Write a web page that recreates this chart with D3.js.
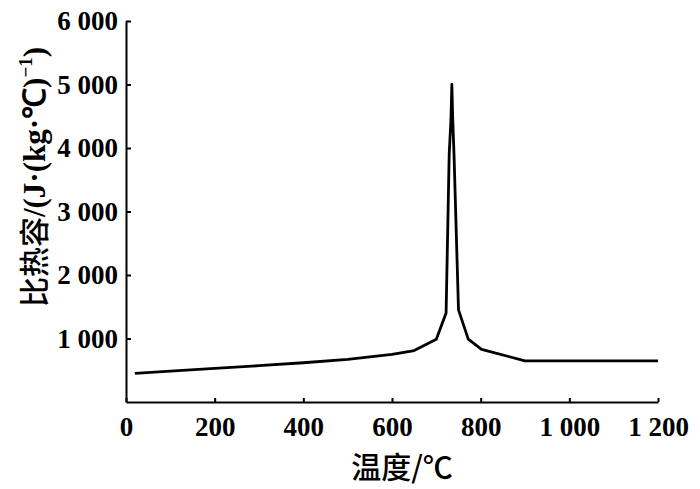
<!DOCTYPE html>
<html><head><meta charset="utf-8">
<script src="https://cdn.jsdelivr.net/npm/d3@7"></script>
<style>body{margin:0;background:#fff}</style>
</head><body>
<svg id="c" width="700" height="489"></svg>
<script>
const temps = [20, 100, 200, 300, 400, 500, 600, 650, 700, 722, 729, 733, 735, 737, 740, 750, 772, 802, 900, 1000, 1100, 1200];
const specificHeat = [450, 485, 528, 572, 618, 670, 750, 810, 990, 1400, 3900, 4450, 5000, 4450, 3870, 1450, 990, 830, 648, 648, 648, 648];
const xTicks = [0, 200, 400, 600, 800, 1000, 1200];
const yTicks = [1000, 2000, 3000, 4000, 5000, 6000];
const xTitle = "温度/℃";

const fmt = v => v >= 1000 ? Math.floor(v/1000) + " " + String(v%1000).padStart(3,"0") : String(v);
const svg = d3.select("#c");
const m = {l:126, r:42, t:21, b:87};
const W = 700, H = 489;
const x = d3.scaleLinear().domain([0,1200]).range([m.l, W-m.r]);
const y = d3.scaleLinear().domain([0,6000]).range([H-m.b, m.t]);
const font = "'Liberation Serif','Times New Roman',serif";

const xa = svg.append("g").attr("transform",`translate(0,${H-m.b})`)
  .call(d3.axisBottom(x).tickValues(xTicks).tickSizeInner(-4).tickSizeOuter(0).tickPadding(15).tickFormat(fmt));
const ya = svg.append("g").attr("transform",`translate(${m.l},0)`)
  .call(d3.axisLeft(y).tickValues(yTicks).tickSizeInner(-5).tickSizeOuter(0).tickPadding(8).tickFormat(fmt));
[xa,ya].forEach(a=>{
  a.attr("font-family",null).attr("font-size",null);
  a.select(".domain").attr("stroke","#000").attr("stroke-width",2);
  a.selectAll(".tick line").attr("stroke","#000").attr("stroke-width",2);
  a.selectAll("text").style("font-family",font).style("font-size","27px").style("font-weight","600").attr("fill","#000");
});
xa.selectAll("text").attr("dy","0.71em");
ya.selectAll("text").attr("dy","0.32em");

const line = d3.line().x((d,i)=>x(temps[i])).y(d=>y(d));
svg.append("path").datum(specificHeat).attr("d",line)
  .attr("fill","none").attr("stroke","#000").attr("stroke-width",2.8).attr("stroke-linejoin","round");

svg.append("text").attr("x",402).attr("y",478).attr("text-anchor","middle")
  .style("font-family","'Noto Sans CJK SC',serif").style("font-size","30px").style("font-weight","500").attr("fill","#000").text(xTitle);

const yt = svg.append("text").attr("transform","translate(45,177) rotate(-90)").attr("text-anchor","middle")
  .style("font-family",font).style("font-size","31px").style("font-weight","600").attr("fill","#000");
yt.append("tspan").style("font-family","'Noto Sans CJK SC',serif").style("font-weight","500").style("font-size","30px").text("比热容");
yt.append("tspan").text("/(J·(kg·℃)");
yt.append("tspan").style("font-size","19px").attr("dy",-13).text("−1");
yt.append("tspan").attr("dy",13).text(")");
</script>
</body></html>
